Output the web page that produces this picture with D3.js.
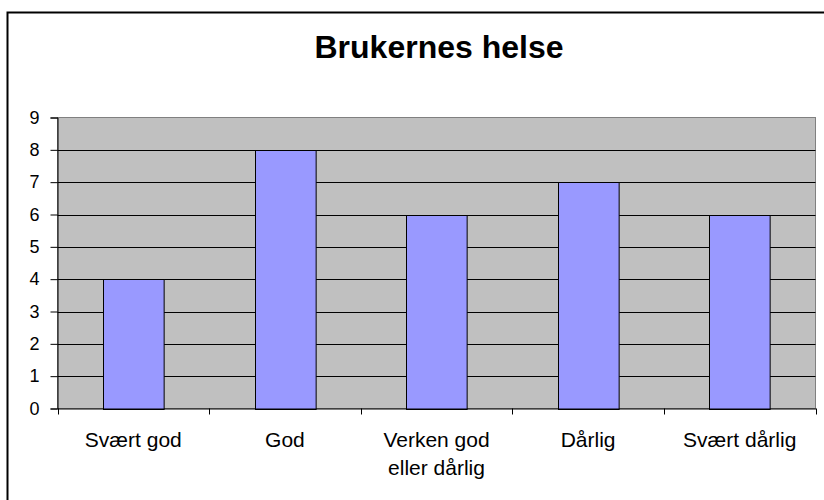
<!DOCTYPE html>
<html>
<head>
<meta charset="utf-8">
<script src="https://cdn.jsdelivr.net/npm/d3@7"></script>
<style>
  body { margin: 0; background: #fff; }
  svg { display: block; font-family: "Liberation Sans", Arial, sans-serif; }
</style>
</head>
<body>
<svg id="chart" width="824" height="500"></svg>
<script>
// data
const categories = ["Svært god", "God", "Verken god|eller dårlig", "Dårlig", "Svært dårlig"];
const values = [4, 8, 6, 7, 6];
const yTicks = [0, 1, 2, 3, 4, 5, 6, 7, 8, 9];
const title = "Brukernes helse";

const svg = d3.select("#chart");
const plot = { left: 57.5, right: 815.5, top: 117.5, bottom: 408.5 };

// outer frame, cut off at right and bottom
svg.append("rect")
    .attr("x", 7.5).attr("y", 12.5)
    .attr("width", 830).attr("height", 500)
    .attr("fill", "#fff").attr("stroke", "#000").attr("stroke-width", 2);

svg.append("text")
    .attr("x", 439).attr("y", 58)
    .attr("text-anchor", "middle")
    .attr("font-size", 32).attr("font-weight", "bold")
    .text(title);

const x = d3.scaleBand()
    .domain(categories)
    .range([plot.left, plot.right])
    .paddingInner(0.6).paddingOuter(0.3);
const xb = d3.scaleBand().domain(categories).range([plot.left, plot.right]);

const y = d3.scaleLinear()
    .domain([0, 9])
    .range([plot.bottom, plot.top]);

// plot background
svg.append("rect")
    .attr("x", plot.left).attr("y", plot.top)
    .attr("width", plot.right - plot.left).attr("height", plot.bottom - plot.top)
    .attr("fill", "#c0c0c0").attr("stroke", "#808080");

// gridlines
svg.append("g").selectAll("line")
    .data(yTicks.filter(d => d > 0 && d < 9))
    .join("line")
    .attr("x1", plot.left).attr("x2", plot.right)
    .attr("y1", d => Math.round(y(d)) + 0.5).attr("y2", d => Math.round(y(d)) + 0.5)
    .attr("stroke", "#000");

// bars
svg.append("g").selectAll("rect")
    .data(values)
    .join("rect")
    .attr("x", (d, i) => Math.round(x(categories[i])) + 0.5)
    .attr("y", d => Math.round(y(d)) + 0.5)
    .attr("width", x.bandwidth())
    .attr("height", d => Math.round(y(0)) - Math.round(y(d)))
    .attr("fill", "#9999ff").attr("stroke", "#000");

// y axis
const yAxis = svg.append("g")
    .attr("transform", `translate(${plot.left},0)`)
    .call(d3.axisLeft(y).tickValues(yTicks).tickSize(7).tickPadding(11)
        .tickFormat(d3.format("d")));
yAxis.selectAll("text").attr("font-size", 18).attr("fill", "#000")
    .attr("font-family", "Liberation Sans, Arial, sans-serif");
yAxis.select(".domain").attr("stroke", "#000");

// x axis
const xAxis = svg.append("g")
    .attr("transform", `translate(0,${plot.bottom})`)
    .call(d3.axisBottom(xb).tickSize(0).tickFormat(""));
xAxis.select(".domain").attr("stroke", "#000");
xAxis.selectAll(".tick").remove();

svg.append("g").selectAll("line")
    .data(d3.range(categories.length + 1))
    .join("line")
    .attr("x1", i => Math.round(plot.left + i * xb.step()) + 0.5)
    .attr("x2", i => Math.round(plot.left + i * xb.step()) + 0.5)
    .attr("y1", plot.bottom).attr("y2", plot.bottom + 6)
    .attr("stroke", "#000");

// category labels
svg.append("g").selectAll("text")
    .data(categories)
    .join("text")
    .attr("text-anchor", "middle")
    .attr("font-size", 21)
    .attr("transform", d => `translate(${xb(d) + xb.bandwidth() / 2},447)`)
    .each(function(d) {
        d.split("|").forEach((line, k) => {
            d3.select(this).append("tspan")
                .attr("x", 0).attr("dy", k === 0 ? 0 : 28)
                .text(line);
        });
    });
</script>
</body>
</html>
